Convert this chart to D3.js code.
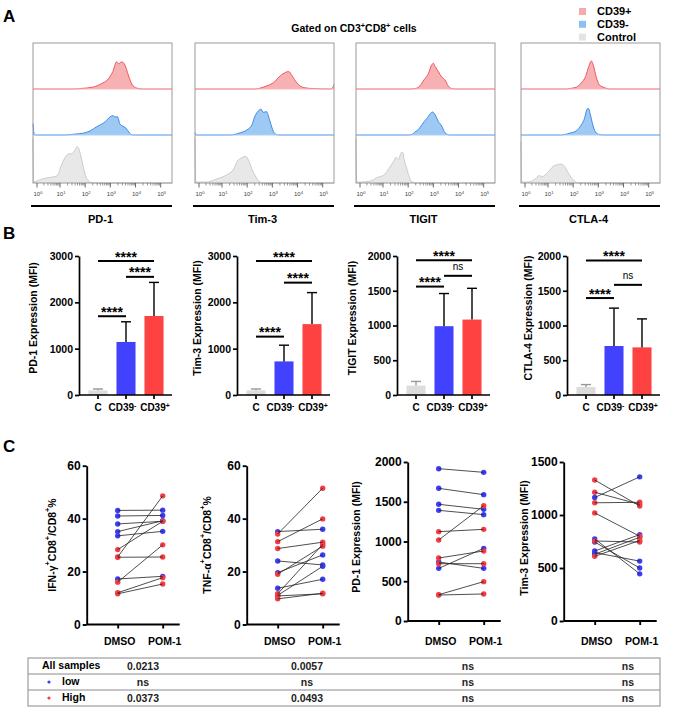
<!DOCTYPE html>
<html>
<head>
<meta charset="utf-8">
<script src="https://cdn.jsdelivr.net/npm/d3@7"></script>
<style>
  body { margin: 0; background: #fff; }
  text { font-family: "Liberation Sans", Arial, sans-serif; }
</style>
</head>
<body>
<script>
// ---- data -------------------------------------------------------------
var markers = ['PD-1', 'Tim-3', 'TIGIT', 'CTLA-4'];
var groups = ['CD39+', 'CD39-', 'Control'];
var decades = [0, 1, 2, 3, 4, 5];

// flow histograms: [log10 intensity, relative count], one trace per marker
var histPos = [
  [[-0.17,0],[1.6,0],[1.8,0.01],[2.3,0.04],[2.7,0.13],[2.85,0.18],[3.1,0.38],[3.25,0.59],[3.33,0.55],[3.45,0.59],[3.58,0.52],[3.71,0.31],[3.85,0.11],[4.05,0.02],[4.3,0],[5.45,0]],
  [[-0.17,0],[2.3,0],[2.52,0.02],[2.79,0.07],[3.05,0.14],[3.32,0.29],[3.52,0.36],[3.65,0.38],[3.78,0.29],[3.98,0.13],[4.25,0.03],[4.6,0.01],[5.3,0],[5.4,0.03],[5.45,0.1]],
  [[-0.17,0],[2.1,0],[2.28,0.01],[2.47,0.07],[2.63,0.2],[2.8,0.33],[2.93,0.52],[3.0,0.56],[3.07,0.49],[3.2,0.38],[3.33,0.26],[3.46,0.2],[3.59,0.07],[3.72,0.01],[3.9,0],[5.45,0]],
  [[-0.17,0],[1.7,0],[1.86,0.01],[2.12,0.04],[2.32,0.13],[2.49,0.27],[2.62,0.49],[2.72,0.61],[2.8,0.52],[2.91,0.27],[3.04,0.09],[3.24,0.03],[3.45,0],[5.45,0]]
];
var histNeg = [
  [[-0.17,0.25],[-0.12,0.02],[-0.05,0],[1.2,0],[1.6,0.02],[1.93,0.04],[2.2,0.09],[2.46,0.18],[2.6,0.22],[2.8,0.29],[3.0,0.40],[3.1,0.42],[3.2,0.39],[3.28,0.40],[3.38,0.24],[3.5,0.19],[3.62,0.15],[3.75,0.05],[3.9,0],[5.45,0]],
  [[-0.17,0.05],[-0.12,0],[1.3,0],[1.73,0.05],[1.99,0.11],[2.19,0.22],[2.28,0.37],[2.42,0.51],[2.55,0.56],[2.65,0.49],[2.76,0.51],[2.89,0.33],[2.99,0.15],[3.08,0.04],[3.25,0],[5.45,0]],
  [[-0.17,0],[2.0,0],[2.14,0.01],[2.28,0.07],[2.41,0.12],[2.54,0.22],[2.74,0.36],[2.97,0.5],[3.07,0.44],[3.2,0.29],[3.33,0.2],[3.46,0.05],[3.65,0],[5.45,0]],
  [[-0.17,0],[1.5,0],[1.86,0.04],[2.12,0.09],[2.32,0.22],[2.45,0.36],[2.55,0.56],[2.6,0.58],[2.67,0.47],[2.78,0.22],[2.88,0.07],[3.04,0.01],[3.2,0],[5.45,0]]
];
var histCtrl = [
  [[-0.17,0.96],[-0.14,0.02],[-0.03,0.04],[0.41,0.11],[0.78,0.14],[0.88,0.16],[1.07,0.41],[1.26,0.6],[1.4,0.64],[1.46,0.63],[1.6,0.72],[1.69,0.79],[1.8,0.65],[1.93,0.34],[2.03,0.13],[2.2,0.02],[2.4,0],[5.45,0]],
  [[-0.17,0.96],[-0.14,0.02],[0.34,0.02],[0.78,0.09],[1.2,0.18],[1.46,0.3],[1.62,0.48],[1.79,0.55],[1.93,0.58],[2.06,0.49],[2.19,0.3],[2.32,0.16],[2.46,0.04],[2.65,0],[5.45,0]],
  [[-0.17,0.96],[-0.14,0.02],[0,0.02],[0.44,0.04],[0.74,0.12],[1.03,0.17],[1.22,0.3],[1.42,0.47],[1.53,0.56],[1.62,0.51],[1.71,0.65],[1.78,0.67],[1.84,0.51],[1.95,0.3],[2.05,0.12],[2.14,0.03],[2.3,0],[5.45,0]],
  [[-0.17,0.9],[-0.14,0.02],[0.1,0.02],[0.4,0.07],[0.62,0.16],[0.76,0.14],[0.99,0.23],[1.2,0.36],[1.39,0.4],[1.53,0.41],[1.66,0.36],[1.79,0.23],[1.92,0.12],[2.05,0.04],[2.2,0],[5.45,0]]
];

// B: mean MFI and top of error bar (C, CD39-, CD39+)
var barCats = ['C', 'CD39-', 'CD39+'];
var barMeans = [[100, 1145, 1705], [100, 725, 1530], [135, 990, 1085], [115, 705, 685]];
var barErrTop = [[130, 1580, 2430], [130, 1075, 2210], [195, 1460, 1535], [150, 1250, 1095]];
var barMax = [3000, 3000, 2000, 2000];
var barTicks = [[0, 1000, 2000, 3000], [0, 1000, 2000, 3000], [0, 500, 1000, 1500, 2000], [0, 500, 1000, 1500, 2000]];
// [from, to, level, label]
var sigPD1 = [[0, 2, 2890, '****'], [1, 2, 2550, '****'], [0, 1, 1700, '****']];
var sigTim3 = [[0, 2, 2890, '****'], [1, 2, 2425, '****'], [0, 1, 1260, '****']];
var sigTIGIT = [[0, 2, 1940, '****'], [1, 2, 1715, 'ns'], [0, 1, 1560, '****']];
var sigCTLA4 = [[0, 2, 1935, '****'], [1, 2, 1585, 'ns'], [0, 1, 1395, '****']];

// C: paired DMSO / POM-1 values
var pairCats = ['DMSO', 'POM-1'];
var ifnLow = [[43.1, 43.2], [41.0, 41.2], [38.0, 39.0], [35.1, 39.2], [33.5, 35.2], [17.2, 18.2]];
var ifnHigh = [[28.3, 39.0], [25.5, 48.6], [25.4, 25.5], [16.0, 30.1], [12.0, 17.7], [11.6, 15.3]];
var tnfLow = [[35.1, 36.0], [24.0, 22.5], [19.6, 26.3], [13.7, 17.1], [11.0, 22.0]];
var tnfHigh = [[34.2, 51.5], [31.3, 39.9], [28.7, 31.1], [19.0, 29.6], [11.6, 30.3], [10.8, 11.6], [9.7, 11.8]];
var pd1Low = [[1916, 1870], [1669, 1589], [1468, 1405], [1392, 1338], [742, 662], [662, 914]];
var pd1High = [[1124, 1153], [1019, 1451], [792, 881], [721, 721], [331, 495], [327, 340]];
var tim3Low = [[1165, 1360], [775, 445], [745, 500], [660, 815], [645, 565], [630, 790]];
var tim3High = [[1330, 1085], [1215, 1100], [1115, 1120], [1020, 800], [755, 745], [610, 760]];
var cMax = [60, 60, 2000, 1500];
var cTicks = [[0, 20, 40, 60], [0, 20, 40, 60], [0, 500, 1000, 1500, 2000], [0, 500, 1000, 1500]];

var tableRows = ['All samples', 'low', 'High'];
var tableVals = [['0.0213', '0.0057', 'ns', 'ns'], ['ns', 'ns', 'ns', 'ns'], ['0.0373', '0.0493', 'ns', 'ns']];

// ---- drawing ----------------------------------------------------------
var svg = d3.select('body').append('svg').attr('width', 677).attr('height', 710);

function rich(t, parts) {
  parts.forEach(function(p) {
    var s = t.append('tspan').text(p[0]);
    if (p[1]) s.attr('baseline-shift', 'super').attr('font-size', '70%');
  });
  return t;
}
function signed(label) { // CD39+ -> CD39 with superscript sign
  var last = label.slice(-1);
  if (last == '+' || last == '-') return [[label.slice(0, -1)], [last, 1]];
  return [[label]];
}

[['A', 22], ['B', 239], ['C', 452]].forEach(function(l) {
  svg.append('text').attr('x', 3).attr('y', l[1]).attr('font-size', 17).attr('font-weight', 'bold').text(l[0]);
});

// ---- A ----
rich(svg.append('text').attr('x', 354).attr('y', 31.5).attr('text-anchor', 'middle')
  .attr('font-size', 10.5).attr('font-weight', 'bold'),
  [['Gated on CD3'], ['+', 1], ['CD8'], ['+', 1], [' cells']]);

var legColors = ['#f7a9ab', '#8cc0f2', '#e4e4e4'];
groups.forEach(function(gname, i) {
  var yy = 8 + i * 12.8;
  svg.append('rect').attr('x', 579).attr('y', yy).attr('width', 7).attr('height', 7).attr('fill', legColors[i]);
  svg.append('text').attr('x', 597).attr('y', yy + 7).attr('font-size', 11).attr('font-weight', 'bold').text(gname);
});

var histX0 = [33, 195, 356, 521], histW = 139;
var rowBase = [89, 135, 183], rowH = 46;
var histStyle = [
  {fill: '#f7a3a6', line: '#ec4a55', base: '#f5b9bb'},
  {fill: '#8dbff3', line: '#2f7fe0', base: '#acd0f5'},
  {fill: '#e4e4e4', line: '#c6c6c6', base: '#a0a0a0'}
];
var minorTicks = [];
d3.range(0, 5).forEach(function(n) { d3.range(2, 10).forEach(function(k) { minorTicks.push(n + Math.log10(k)); }); });

markers.forEach(function(m, i) {
  var g = svg.append('g').attr('transform', 'translate(' + histX0[i] + ',0)');
  var x = d3.scaleLinear().domain([-0.17, 0, 1, 5, 5.45]).range([0, 4, 27, 127.7, histW]);
  [histPos[i], histNeg[i], histCtrl[i]].forEach(function(trace, r) {
    var y = d3.scaleLinear().domain([0, 1]).range([rowBase[r], rowBase[r] - rowH]);
    g.append('path').datum(trace)
      .attr('d', d3.area().x(function(d) { return x(d[0]); }).y0(rowBase[r]).y1(function(d) { return y(d[1]); }).curve(d3.curveMonotoneX))
      .attr('fill', histStyle[r].fill).attr('fill-opacity', 0.85);
    g.append('path').datum(trace)
      .attr('d', d3.line().x(function(d) { return x(d[0]); }).y(function(d) { return y(d[1]); }).curve(d3.curveMonotoneX))
      .attr('fill', 'none').attr('stroke', histStyle[r].line).attr('stroke-width', 0.9);
    if (r < 2)
      g.append('line').attr('x1', 0).attr('x2', histW).attr('y1', rowBase[r]).attr('y2', rowBase[r])
        .attr('stroke', histStyle[r].base).attr('stroke-width', 1);
  });
  g.append('rect').attr('x', 0).attr('y', 43).attr('width', histW).attr('height', 183 - 43)
    .attr('fill', 'none').attr('stroke', '#9a9a9a').attr('stroke-width', 1);

  var ax = g.append('g').attr('transform', 'translate(0,183)');
  ax.selectAll('line.minor').data(minorTicks).enter().append('line')
    .attr('x1', x).attr('x2', x).attr('y1', 0).attr('y2', 2.5).attr('stroke', '#555').attr('stroke-width', 0.6);
  ax.selectAll('line.major').data(decades).enter().append('line')
    .attr('x1', x).attr('x2', x).attr('y1', 0).attr('y2', 4.5).attr('stroke', '#444').attr('stroke-width', 0.8);
  decades.forEach(function(d) {
    rich(ax.append('text').attr('x', x(d) + 1).attr('y', 13).attr('text-anchor', 'middle')
      .attr('font-size', 6).attr('fill', '#444'), [['10'], [String(d), 1]]);
  });

  svg.append('line').attr('x1', histX0[i] - 2).attr('x2', histX0[i] + histW).attr('y1', 206).attr('y2', 206)
    .attr('stroke', '#000').attr('stroke-width', 2);
  svg.append('text').attr('x', histX0[i] + histW / 2 - 2).attr('y', 222.5).attr('text-anchor', 'middle')
    .attr('font-size', 11).attr('font-weight', 'bold').text(m);
});

// ---- B ----
var bAxisX = [79, 237, 397, 567];
var bLabelX = [33, 197, 352, 528];
var barColors = ['#dcdcdc', '#4141fe', '#fe4141'];
var catShift = [0, -3.5, 1];
var sigs = [sigPD1, sigTim3, sigTIGIT, sigCTLA4];

function styleAxis(a, fs, sw) {
  a.attr('font-family', null).attr('font-size', null);
  a.select('.domain').attr('stroke-width', sw);
  a.selectAll('.tick line').attr('stroke-width', sw);
  a.selectAll('.tick text').attr('font-size', fs).attr('font-weight', 'bold').attr('fill', '#000');
}

markers.forEach(function(m, i) {
  var g = svg.append('g');
  var x0 = bAxisX[i];
  var y = d3.scaleLinear().domain([0, barMax[i]]).range([395, 256]);
  var x = d3.scaleBand().domain(barCats).range([x0 + 5, x0 + 89]).paddingInner(0.32).paddingOuter(0.16);
  var cx = function(j) { return x(barCats[j]) + x.bandwidth() / 2; };

  g.selectAll('rect.bar').data(barCats).enter().append('rect')
    .attr('x', function(d) { return x(d); }).attr('width', x.bandwidth())
    .attr('y', function(d, j) { return y(barMeans[i][j]); })
    .attr('height', function(d, j) { return 395 - y(barMeans[i][j]); })
    .attr('fill', function(d, j) { return barColors[j]; });

  barCats.forEach(function(c, j) {
    g.append('line').attr('x1', cx(j)).attr('x2', cx(j)).attr('y1', y(barMeans[i][j])).attr('y2', y(barErrTop[i][j]))
      .attr('stroke', j ? '#000' : '#999').attr('stroke-width', 1.4);
    g.append('line').attr('x1', cx(j) - 5).attr('x2', cx(j) + 5).attr('y1', y(barErrTop[i][j])).attr('y2', y(barErrTop[i][j]))
      .attr('stroke', j ? '#000' : '#999').attr('stroke-width', 1.4);
  });

  var ya = g.append('g').attr('transform', 'translate(' + x0 + ',0)')
    .call(d3.axisLeft(y).tickValues(barTicks[i]).tickSize(4).tickSizeOuter(0).tickPadding(2).tickFormat(d3.format('d')));
  styleAxis(ya, 10.5, 1.7);

  var xa = g.append('g').attr('transform', 'translate(0,395)')
    .call(d3.axisBottom(x).tickSize(4).tickSizeOuter(0).tickFormat(''));
  xa.select('.domain').attr('d', 'M' + x0 + ',0H' + (x0 + 93));
  styleAxis(xa, 10.5, 1.7);
  barCats.forEach(function(c, j) {
    rich(g.append('text').attr('x', cx(j) + catShift[j]).attr('y', 411).attr('text-anchor', 'middle')
      .attr('font-size', 10).attr('font-weight', 'bold'), signed(c));
  });

  sigs[i].forEach(function(s) {
    var ly = y(s[2]);
    g.append('line').attr('x1', cx(s[0])).attr('x2', cx(s[1])).attr('y1', ly).attr('y2', ly)
      .attr('stroke', '#000').attr('stroke-width', 2);
    var star = s[3] == '****';
    g.append('text').attr('x', (cx(s[0]) + cx(s[1])) / 2).attr('y', star ? ly + 0.5 : ly - 6)
      .attr('text-anchor', 'middle').attr('font-size', star ? 14 : 10)
      .attr('font-weight', star ? 'bold' : 'normal').text(s[3]);
  });

  svg.append('text').attr('transform', 'translate(' + bLabelX[i] + ',318) rotate(-90)')
    .attr('text-anchor', 'middle').attr('dominant-baseline', 'central')
    .attr('font-size', 10.5).attr('font-weight', 'bold').text(m + ' Expression (MFI)');
});

// ---- C ----
var cAxisX = [86.7, 246.7, 407.7, 563.7];
var cBottom = [624.5, 624.5, 621, 621], cTop = [465.7, 465.7, 462, 462];
var cLabelX = [52, 207, 356, 524], cLabelY = [545, 545, 537, 538];
var cLabels = [
  [['IFN-\u03b3'], ['+', 1], ['CD8'], ['+', 1], ['/CD8'], ['+', 1], ['%']],
  [['TNF-\u03b1'], ['+', 1], ['CD8'], ['+', 1], ['/CD8'], ['+', 1], ['%']],
  [['PD-1 Expression (MFI)']],
  [['Tim-3 Expression (MFI)']]
];
var cLow = [ifnLow, tnfLow, pd1Low, tim3Low];
var cHigh = [ifnHigh, tnfHigh, pd1High, tim3High];
var lowColor = '#3d3df5', highColor = '#f53d45';

cLow.forEach(function(low, i) {
  var g = svg.append('g');
  var x0 = cAxisX[i];
  var y = d3.scaleLinear().domain([0, cMax[i]]).range([cBottom[i], cTop[i]]);
  var x = d3.scalePoint().domain(pairCats).range([x0 + 31, x0 + 76]);
  var subjects = low.map(function(v) { return {v: v, c: lowColor}; })
    .concat(cHigh[i].map(function(v) { return {v: v, c: highColor}; }));

  subjects.forEach(function(s) {
    pairCats.forEach(function(p, k) {
      g.append('circle').attr('cx', x(p)).attr('cy', y(s.v[k])).attr('r', 2.7).attr('fill', s.c);
    });
  });
  g.selectAll('line.pair').data(subjects).enter().append('line')
    .attr('x1', x(pairCats[0])).attr('x2', x(pairCats[1]))
    .attr('y1', function(s) { return y(s.v[0]); }).attr('y2', function(s) { return y(s.v[1]); })
    .attr('stroke', '#222').attr('stroke-width', 0.8);

  var ya = g.append('g').attr('transform', 'translate(' + x0 + ',0)')
    .call(d3.axisLeft(y).tickValues(cTicks[i]).tickSize(4).tickSizeOuter(0).tickPadding(2).tickFormat(d3.format('d')));
  styleAxis(ya, 12, 1.9);
  var xa = g.append('g').attr('transform', 'translate(0,' + cBottom[i] + ')')
    .call(d3.axisBottom(x).tickSize(4).tickSizeOuter(0).tickFormat(''));
  xa.select('.domain').attr('d', 'M' + x0 + ',0H' + (x0 + 93));
  styleAxis(xa, 10, 1.9);
  pairCats.forEach(function(p) {
    g.append('text').attr('x', x(p) + 2).attr('y', 644.5).attr('text-anchor', 'middle')
      .attr('font-size', 10.5).attr('font-weight', 'bold').text(p);
  });

  rich(svg.append('text').attr('transform', 'translate(' + cLabelX[i] + ',' + cLabelY[i] + ') rotate(-90)')
    .attr('text-anchor', 'middle').attr('dominant-baseline', 'central')
    .attr('font-size', 10.5).attr('font-weight', 'bold'), cLabels[i]);
});

// ---- table ----
var tTop = 658, tRow = 16, tLeft = 28, tRight = 660;
var colX = [143, 307, 468, 628];
var tg = svg.append('g');
tg.append('rect').attr('x', tLeft).attr('y', tTop).attr('width', tRight - tLeft).attr('height', tRow * 3)
  .attr('fill', 'none').attr('stroke', '#8a8a8a').attr('stroke-width', 1);
[1, 2].forEach(function(r) {
  tg.append('line').attr('x1', tLeft).attr('x2', tRight).attr('y1', tTop + r * tRow).attr('y2', tTop + r * tRow)
    .attr('stroke', '#8a8a8a').attr('stroke-width', 1);
});
tableRows.forEach(function(name, r) {
  var ty = tTop + r * tRow + tRow / 2 + 4;
  if (r == 0) {
    tg.append('text').attr('x', 42).attr('y', ty - 1.5).attr('font-size', 10.5).attr('font-weight', 'bold').text(name);
  } else {
    tg.append('circle').attr('cx', 49).attr('cy', ty - 4).attr('r', 1.6).attr('fill', r == 1 ? lowColor : highColor);
    tg.append('text').attr('x', 62).attr('y', ty - 1.5).attr('font-size', 10.5).attr('font-weight', 'bold').text(name);
  }
  tableVals[r].forEach(function(v, c) {
    tg.append('text').attr('x', colX[c]).attr('y', ty).attr('text-anchor', 'middle')
      .attr('font-size', 10.5).attr('font-weight', 'bold').attr('fill', '#222').text(v);
  });
});
</script>
</body>
</html>
